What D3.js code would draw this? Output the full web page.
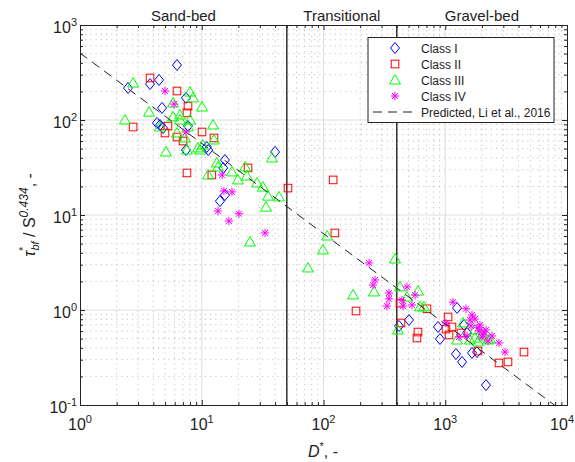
<!DOCTYPE html>
<html>
<head>
<meta charset="utf-8">
<script src="https://cdn.jsdelivr.net/npm/d3@7"></script>
<style>
  body { margin: 0; background: #fff; }
  text { font-family: "Liberation Sans", Arial, Helvetica, sans-serif; fill: #222; }
</style>
</head>
<body>
<div id="chart"></div>
<script>
// [D*, tau*_bf / S^0.434]
let classI = [
  [6.26,379],[4.46,264],[3.76,239],[2.48,217],[4.72,134],[4.29,93.0],[4.54,88.6],[4.81,82.4],
  [7.42,171],[7.71,86.4],[7.42,48.3],[11.0,52.0],[11.3,48.3],[15.5,37.9],[15.0,31.3],
  [14.1,14.0],[15.5,16.2],[40.0,46.1],
  [417,0.679],[504,0.785],[872,0.663],[905,0.495],[1225,0.344],[1374,0.284],[1250,1.05],
  [1426,0.695],[1510,0.573],[1660,0.353],[1823,0.361],[2161,0.162]
];
let classII = [
  [3.76,277],[6.26,202],[7.71,140],[7.56,119],[2.73,84.4],[5.28,86.4],[4.99,73.0],[6.26,66.2],
  [7.02,60.1],[10.05,74.8],[12.6,64.7],[7.56,27.7],[24.0,31.3],[12.1,26.4],
  [51.1,19.2],[120,23.4],[124,6.47],[185,0.976],
  [425,1.18],[433,0.730],[597,0.586],[586,0.507],[1054,0.844],[1014,0.631],[1136,0.663],
  [1074,0.546],[1346,0.573],[708,1.03],[1857,0.370],[2763,0.277],[3276,0.284],[4433,0.361]
];
let classIII = [
  [2.73,245],[2.34,100],[3.69,121],[5.08,46.1],[5.81,151],[8.00,197],[8.47,171],[10.05,137],
  [6.63,113],[6.63,100],[8.00,100],[7.71,84.4],[6.26,73.0],[7.28,64.7],[7.56,48.3],[9.31,50.8],
  [10.2,54.5],[12.4,88.6],[12.6,61.6],[4.54,84.4],[5.81,108],[9.68,48.3],[13.3,35.3],[11.3,26.4],
  [13.6,32.0],[17.7,28.4],[19.8,23.4],[22.7,32.0],[23.5,25.7],[28.4,21.7],[31.8,19.7],[35.0,15.8],
  [43.1,15.5],[33.7,12.1],[24.9,5.20],[37.8,39.8],
  [107,6.01],[99.1,4.29],[74.6,2.77],[175,1.44],[260,1.55],[387,3.44],
  [425,1.75],[597,1.58],[621,1.08],[669,1.08],[409,0.616],[485,1.37],[1400,0.730],[1250,0.483],
  [1754,0.616],[2004,0.546],[2333,0.495],[1597,0.483],[1754,0.507],[1857,0.461],[2245,0.483]
];
let classIV = [
  [4.99,202],[5.92,147],[7.42,74.8],[14.7,26.4],[15.2,17.9],[17.7,17.5],[13.6,11.0],[16.7,8.65],
  [20.2,10.3],[33.1,6.47],
  [237,3.13],[265,2.07],[255,1.83],
  [345,1.51],[345,1.31],[332,1.10],[485,1.75],[565,1.44],[441,1.27],[533,1.13],[450,1.10],
  [1158,1.21],[1480,1.03],[1660,0.886],[1754,0.804],[1928,0.695],[2082,0.586],[2004,0.520],
  [2245,0.472],[2763,0.450],[3097,0.361],[1627,0.679],[1510,0.533],[1297,0.520],[1014,0.730],
  [1893,0.600],[2042,0.546],[1597,0.785],[1857,0.650],[2161,0.616],[2421,0.533]
];

// predicted relation: y = predCoef * D*^predExp
let predCoef = 507;
let predExp = -0.951;

let regionBounds = [1, 50, 400, 10000];
let regionNames = ["Sand-bed", "Transitional", "Gravel-bed"];
let xTickExp = [0, 1, 2, 3, 4];
let yTickExp = [-1, 0, 1, 2, 3];
let legendLabels = ["Class I", "Class II", "Class III", "Class IV", "Predicted, Li et al., 2016"];

let svgWidth = 575;
let svgHeight = 462;
let padL = 80, padR = 567, padT = 25, padB = 405;

let svg = d3.select("#chart")
  .append("svg")
  .attr("width", svgWidth)
  .attr("height", svgHeight)
  .style("background", "#fff");

let xScale = d3.scaleLog().domain([1, 1e4]).range([padL, padR]);
let yScale = d3.scaleLog().domain([0.1, 1e3]).range([padB, padT]);

let minorX = [], minorY = [];
xTickExp.slice(0, -1).forEach(e => { for (let m = 2; m < 10; m++) minorX.push(m * Math.pow(10, e)); });
yTickExp.slice(0, -1).forEach(e => { for (let m = 2; m < 10; m++) minorY.push(m * Math.pow(10, e)); });
let majorX = xTickExp.map(e => Math.pow(10, e));
let majorY = yTickExp.map(e => Math.pow(10, e));

// grid
let grid = svg.append("g");
grid.selectAll(".mgx").data(minorX).enter().append("line")
  .attr("x1", d => xScale(d)).attr("x2", d => xScale(d))
  .attr("y1", padT).attr("y2", padB)
  .attr("stroke", "#c4c4c4").attr("stroke-dasharray", "1.2,4");
grid.selectAll(".mgy").data(minorY).enter().append("line")
  .attr("y1", d => yScale(d)).attr("y2", d => yScale(d))
  .attr("x1", padL).attr("x2", padR)
  .attr("stroke", "#c4c4c4").attr("stroke-dasharray", "1.2,4");
grid.selectAll(".gx").data(majorX.slice(1, -1)).enter().append("line")
  .attr("x1", d => xScale(d)).attr("x2", d => xScale(d))
  .attr("y1", padT).attr("y2", padB)
  .attr("stroke", "#dedede");
grid.selectAll(".gy").data(majorY.slice(1, -1)).enter().append("line")
  .attr("y1", d => yScale(d)).attr("y2", d => yScale(d))
  .attr("x1", padL).attr("x2", padR)
  .attr("stroke", "#dedede");

// region boundaries
svg.append("g").selectAll("line")
  .data(regionBounds.slice(1, -1))
  .enter().append("line")
  .attr("x1", d => xScale(d)).attr("x2", d => xScale(d))
  .attr("y1", padT).attr("y2", padB)
  .attr("stroke", "#000").attr("stroke-width", 1.2);

svg.append("g").selectAll("text")
  .data(regionNames)
  .enter().append("text")
  .attr("x", (d, i) => xScale(Math.sqrt(regionBounds[i] * regionBounds[i + 1])))
  .attr("y", 21)
  .attr("text-anchor", "middle")
  .attr("font-size", 15)
  .text(d => d);

// markers
function diamond(s) {
  s.append("path")
    .attr("d", d => {
      let cx = xScale(d[0]), cy = yScale(d[1]);
      return `M${cx},${cy-5.5}L${cx+4.5},${cy}L${cx},${cy+5.5}L${cx-4.5},${cy}Z`;
    })
    .attr("fill", "none").attr("stroke", "#0000ff");
}
function square(s) {
  s.append("rect")
    .attr("x", d => xScale(d[0]) - 3.8).attr("y", d => yScale(d[1]) - 3.8)
    .attr("width", 7.6).attr("height", 7.6)
    .attr("fill", "none").attr("stroke", "#ff0000");
}
function triangle(s) {
  s.append("path")
    .attr("d", d => {
      let cx = xScale(d[0]), cy = yScale(d[1]);
      return `M${cx},${cy-5.5}L${cx+5.5},${cy+4}L${cx-5.5},${cy+4}Z`;
    })
    .attr("fill", "none").attr("stroke", "#00ff00");
}
function asterisk(s) {
  s.append("path")
    .attr("d", d => {
      let cx = xScale(d[0]), cy = yScale(d[1]), r = 4.2, q = 3;
      return `M${cx-r},${cy}H${cx+r}M${cx},${cy-r}V${cy+r}` +
        `M${cx-q},${cy-q}L${cx+q},${cy+q}M${cx-q},${cy+q}L${cx+q},${cy-q}`;
    })
    .attr("fill", "none").attr("stroke", "#ff00ff");
}

let series = [[classI, diamond], [classII, square], [classIII, triangle], [classIV, asterisk]];
series.forEach(([data, draw]) => {
  svg.append("g").selectAll("g").data(data).enter().append("g").call(draw);
});

// predicted line, clipped to the axes box
svg.append("clipPath").attr("id", "plotclip")
  .append("rect").attr("x", padL).attr("y", padT)
  .attr("width", padR - padL).attr("height", padB - padT);

let predLine = d3.line()
  .x(d => xScale(d))
  .y(d => yScale(predCoef * Math.pow(d, predExp)));

svg.append("path")
  .datum([1, 1e4])
  .attr("clip-path", "url(#plotclip)")
  .attr("d", predLine)
  .attr("fill", "none")
  .attr("stroke", "#222")
  .attr("stroke-dasharray", "9,6");

// axes (ticks inside, box on)
function styleAxis(g) {
  g.selectAll("path").attr("stroke", "#222");
  g.selectAll("line").attr("stroke", "#222");
}
[[d3.axisBottom, `translate(0,${padB})`, xScale, majorX, minorX],
 [d3.axisTop, `translate(0,${padT})`, xScale, majorX, minorX],
 [d3.axisLeft, `translate(${padL},0)`, yScale, majorY, minorY],
 [d3.axisRight, `translate(${padR},0)`, yScale, majorY, minorY]].forEach(([ax, tr, sc, maj, mnr]) => {
  svg.append("g").attr("transform", tr)
    .call(ax(sc).tickValues(maj).tickSizeInner(-5).tickSizeOuter(0).tickFormat(""))
    .call(styleAxis);
  svg.append("g").attr("transform", tr)
    .call(ax(sc).tickValues(mnr).tickSizeInner(-3).tickSizeOuter(0).tickFormat(""))
    .call(styleAxis);
});

// tick labels 10^n (last x label pulled in so it stays on the page)
let xl = svg.append("g").selectAll("text").data(xTickExp).enter().append("text")
  .attr("x", (d, i) => i === xTickExp.length - 1 ? svgWidth - 1 : xScale(Math.pow(10, d)))
  .attr("y", 430)
  .attr("text-anchor", (d, i) => i === xTickExp.length - 1 ? "end" : "middle")
  .attr("font-size", 16);
xl.append("tspan").text("10");
xl.append("tspan").attr("dy", -7).attr("font-size", 11).text(d => d);

let yl = svg.append("g").selectAll("text").data(yTickExp).enter().append("text")
  .attr("x", 77)
  .attr("y", d => yScale(Math.pow(10, d)) + 8)
  .attr("text-anchor", "end")
  .attr("font-size", 16);
yl.append("tspan").text("10");
yl.append("tspan").attr("dy", -7).attr("font-size", 11).text(d => d);

// axis labels
let xlab = svg.append("text")
  .attr("x", 323).attr("y", 457)
  .attr("text-anchor", "middle")
  .attr("font-size", 16);
xlab.append("tspan").attr("font-style", "italic").text("D");
xlab.append("tspan").attr("dy", -7).attr("font-size", 11).text("*");
xlab.append("tspan").attr("dy", 7).text(", -");

let ylab = svg.append("text")
  .attr("transform", `translate(35,${(padT + padB) / 2}) rotate(-90)`)
  .attr("text-anchor", "middle")
  .attr("font-size", 16);
ylab.append("tspan").attr("font-style", "italic").text("\u03c4");
ylab.append("tspan").attr("dy", -8).attr("font-size", 11).text("*");
ylab.append("tspan").attr("dx", -4).attr("dy", 12).attr("font-size", 11).attr("font-style", "italic").text("bf");
ylab.append("tspan").attr("dy", -4).text(" / S");
ylab.append("tspan").attr("dy", -7).attr("font-size", 12).attr("font-style", "italic").text("0.434");
ylab.append("tspan").attr("dy", 7).text(", -");

// legend
let lg = svg.append("g");
lg.append("rect")
  .attr("x", 368).attr("y", 37.5).attr("width", 186).attr("height", 85)
  .attr("fill", "#fff").attr("stroke", "#222");
let rowY = i => 48 + i * 16;
let markers = [diamond, square, triangle, asterisk];
markers.forEach((draw, i) => {
  let g = lg.append("g").datum([xScale.invert(395), yScale.invert(rowY(i))]);
  draw(g);
});
lg.append("line")
  .attr("x1", 373).attr("x2", 418)
  .attr("y1", rowY(4)).attr("y2", rowY(4))
  .attr("stroke", "#222").attr("stroke-dasharray", "9,6");
lg.selectAll(".lt").data(legendLabels).enter().append("text")
  .attr("x", 421)
  .attr("y", (d, i) => rowY(i) + 4.5)
  .attr("font-size", 12)
  .text(d => d);
</script>
</body>
</html>
